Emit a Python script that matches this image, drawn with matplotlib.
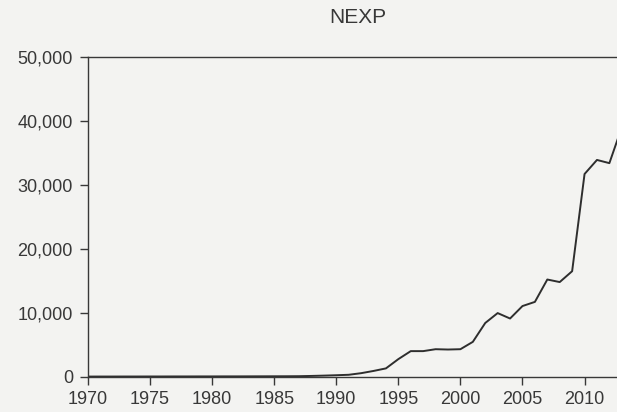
import numpy as np
import matplotlib
matplotlib.use("Agg")
import matplotlib.pyplot as plt
from matplotlib.ticker import FuncFormatter

# NEXP, annual series
years = np.arange(1970, 2014)
nexp = [20, 25, 25, 30, 30, 35, 35, 40, 40, 45,
        45, 50, 50, 55, 60, 65, 70, 80, 120, 170,
        230, 300, 550, 900, 1300, 2750, 4000, 4000, 4300, 4250,
        4300, 5450, 8400, 9950, 9100, 11050, 11700, 15200, 14800, 16500,
        31700, 33900, 33400, 39000]

y_ticks = [0, 10000, 20000, 30000, 40000, 50000]
x_ticks = list(range(1970, 2015, 5))

ink = "#383838"
paper = "#f3f3f1"

plt.rcParams['font.family'] = ['Liberation Sans', 'DejaVu Sans']

fig = plt.figure(figsize=(6.17, 4.12), dpi=100, facecolor=paper)
ax = fig.add_axes([88 / 617, 35.3 / 412, 540 / 617, 319.7 / 412])
ax.set_facecolor(paper)

ax.plot(years, nexp, color="#2e2e2e", lw=1.4)

ax.set_xlim(1970, 2013.5)
ax.set_ylim(0, 50000)
ax.set_xticks(x_ticks)
ax.set_yticks(y_ticks)
ax.yaxis.set_major_formatter(FuncFormatter(lambda v, p: "{:,.0f}".format(v)))

for s in ax.spines.values():
    s.set_color(ink)
    s.set_linewidth(1.0)

ax.tick_params(axis="both", direction="out", colors=ink, labelsize=13,
               width=1.0, length=5.8)
ax.tick_params(axis="y", pad=5)
ax.tick_params(axis="x", pad=4.5)

fig.text(358 / 617, 1 - 23 / 412, "NEXP", ha="center", va="baseline",
         fontsize=15, color=ink)

fig.savefig("out.png", dpi=100, facecolor=paper)
